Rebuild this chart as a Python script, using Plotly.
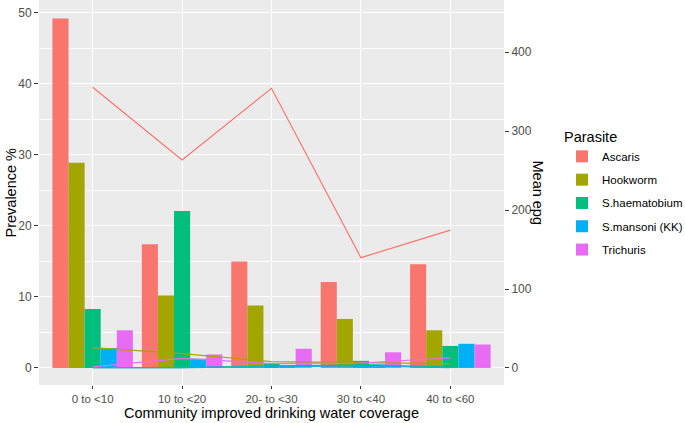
import plotly.graph_objects as go

categories = ["0 to <10", "10 to <20", "20- to <30", "30 to <40", "40 to <60"]
parasites = ["Ascaris", "Hookworm", "S.haematobium", "S.mansoni (KK)", "Trichuris"]
colors = ["#F8766D", "#A3A500", "#00BF7D", "#00B0F6", "#E76BF3"]

# Prevalence % (bars)
prev_ascaris = [49.2, 17.4, 15.0, 12.1, 14.6]
prev_hookworm = [28.9, 10.2, 8.8, 6.9, 5.3]
prev_shaem = [8.3, 22.1, 0.7, 1.0, 3.1]
prev_smansoni = [2.8, 1.3, 0.4, 0.5, 3.4]
prev_trichuris = [5.3, 1.9, 2.7, 2.2, 3.3]

# Mean epg (lines)
epg_ascaris = [355.6, 263.6, 354.3, 139.7, 174.7]
epg_hookworm = [25.8, 18.2, 8.0, 7.1, 5.5]
epg_shaem = [0.5, 0.5, 2.5, 4.0, 1.5]
epg_smansoni = [0.3, 0.3, 1.5, 2.5, 0.3]
epg_trichuris = [1.3, 12.2, 5.5, 6.3, 12.7]

prev = [prev_ascaris, prev_hookworm, prev_shaem, prev_smansoni, prev_trichuris]
epg = [epg_ascaris, epg_hookworm, epg_shaem, epg_smansoni, epg_trichuris]

FONT = "Liberation Sans, Arial, sans-serif"
fig = go.Figure()
for name, col, vals in zip(parasites, colors, prev):
    fig.add_trace(go.Bar(x=categories, y=vals, name=name, marker_color=col,
                         marker_line_width=0, legendgroup=name))
for name, col, vals in zip(parasites, colors, epg):
    fig.add_trace(go.Scatter(x=categories, y=vals, name=name, mode="lines",
                             line=dict(color=col, width=1.2), yaxis="y2",
                             showlegend=False, legendgroup=name))

lo, hi = -2.4, 51.8
W_PLOT, H_PLOT = 465, 385
fig.update_layout(
    width=685, height=423,
    margin=dict(l=39, r=181, t=0, b=38, autoexpand=False),
    paper_bgcolor="white", plot_bgcolor="#EBEBEB",
    barmode="group", bargap=0.1, bargroupgap=0,
    font=dict(family=FONT, color="black"),
    xaxis=dict(range=[-0.6, 4.6], showgrid=True, gridcolor="white", gridwidth=1.1,
               ticks="outside", ticklen=3, tickcolor="#333333", automargin=False,
               tickfont=dict(size=11.5, color="#4D4D4D"), zeroline=False),
    yaxis=dict(range=[lo, hi], dtick=10, showgrid=True, gridcolor="white", gridwidth=1.1,
               minor=dict(dtick=5, showgrid=True, gridcolor="white", gridwidth=0.5),
               ticks="outside", ticklen=4, tickcolor="#333333", zeroline=False,
               automargin=False, tickfont=dict(size=12, color="#4D4D4D")),
    yaxis2=dict(range=[lo * 9, hi * 9], overlaying="y", side="right", dtick=100,
                showgrid=False, zeroline=False, ticks="outside", ticklen=4,
                automargin=False, tickcolor="#333333",
                tickfont=dict(size=12, color="#4D4D4D")),
    legend=dict(x=(562 - 39) / W_PLOT, y=1 - 123 / H_PLOT, xanchor="left", yanchor="top",
                title=dict(text="Parasite", font=dict(size=14.5)),
                font=dict(size=11.5), traceorder="grouped", tracegroupgap=4.3,
                bgcolor="rgba(0,0,0,0)"),
    annotations=[
        dict(text="Mean epg", xref="paper", yref="paper", x=(538 - 39) / W_PLOT, y=0.5,
             textangle=90, showarrow=False, font=dict(size=14.5),
             xanchor="center", yanchor="middle"),
        dict(text="Prevalence %", xref="paper", yref="paper", x=(10 - 39) / W_PLOT, y=0.5,
             textangle=-90, showarrow=False, font=dict(size=14.5),
             xanchor="center", yanchor="middle"),
        dict(text="Community improved drinking water coverage", xref="paper", yref="paper",
             x=0.5, y=(H_PLOT - 413) / H_PLOT, showarrow=False, font=dict(size=14.5),
             xanchor="center", yanchor="middle"),
    ],
)
fig.write_html("out.html", config={"displayModeBar": False},
               post_script="document.body.style.margin='0';document.body.style.overflow='hidden';")
